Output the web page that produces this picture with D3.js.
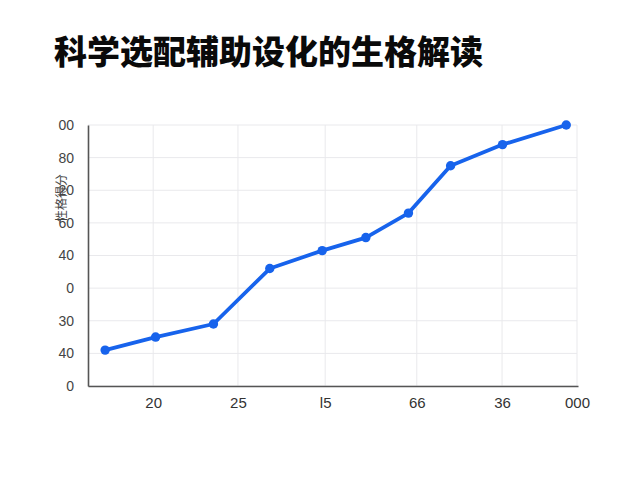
<!DOCTYPE html>
<html>
<head>
<meta charset="utf-8">
<script src="https://cdn.jsdelivr.net/npm/d3@7"></script>
<style>
  body { margin: 0; background: #fff; }
  svg { display: block; }
</style>
</head>
<body>
<div id="chart"></div>
<script>
// chart values
let titleText = "科学选配辅助设化的生格解读";
let yTitle = "性格得分";
let xValues = [3.5, 13.8, 25.6, 37.1, 47.8, 56.7, 65.4, 74.0, 84.6, 97.6];
let yValues = [22, 30, 38, 72, 83, 91, 106, 135, 148, 160];
let xTickValues = [13.3, 30.6, 48.4, 67.1, 84.5, 99.8];
let xTickLabels = ["20", "25", "Ɩ5", "66", "36", "000"];
let yTickValues = [0, 20, 40, 60, 80, 100, 120, 140, 160];
let yTickLabels = ["0", "40", "30", "0", "40", "60", "20", "80", "00"];

let width = 640;
let height = 480;
let margin = { top: 125, bottom: 94, left: 88, right: 62 };

let svg = d3.select('#chart')
    .append('svg')
        .attr('width', width)
        .attr('height', height)
        .style('background', '#fff');

svg.append('text')
    .attr('x', 54)
    .attr('y', 64)
    .attr('font-family', '"Noto Sans CJK SC", sans-serif')
    .attr('font-weight', 900)
    .attr('font-size', 33)
    .attr('fill', '#0a0a0a')
    .text(titleText);

let g = svg.append('g')
    .attr('transform', 'translate(' + margin.left + ',' + margin.top + ')');

let innerW = width - margin.left - margin.right;
let innerH = height - margin.top - margin.bottom;

let xScale = d3.scaleLinear()
    .domain([0, 100])
    .range([0, innerW]);

let yScale = d3.scaleLinear()
    .domain([0, 160])
    .range([innerH, 0]);

// grid
g.append('g')
    .selectAll('line.hgrid')
    .data(yTickValues)
    .enter().append('line')
        .attr('x1', 0).attr('x2', xScale(99.8))
        .attr('y1', d => yScale(d)).attr('y2', d => yScale(d))
        .attr('stroke', '#e9e9ec')
        .attr('stroke-width', 1);

g.append('g')
    .selectAll('line.vgrid')
    .data(xTickValues)
    .enter().append('line')
        .attr('x1', d => xScale(d)).attr('x2', d => xScale(d))
        .attr('y1', 0).attr('y2', innerH)
        .attr('stroke', '#e9e9ec')
        .attr('stroke-width', 1);

// axes
let xAxis = d3.axisBottom(xScale)
    .tickValues(xTickValues)
    .tickSize(0)
    .tickPadding(11)
    .tickFormat((d, i) => xTickLabels[i]);
let xg = g.append('g')
    .attr('transform', 'translate(0,' + innerH + ')')
    .call(xAxis);
xg.select('.domain').attr('stroke', '#555').attr('stroke-width', 1.6);
xg.selectAll('text')
    .attr('font-family', '"Liberation Sans", sans-serif')
    .attr('font-size', 15)
    .attr('fill', '#333');

let yAxis = d3.axisLeft(yScale)
    .tickValues(yTickValues)
    .tickSize(0)
    .tickPadding(14)
    .tickFormat((d, i) => yTickLabels[i]);
let yg = g.append('g').call(yAxis);
yg.select('.domain').attr('stroke', '#555').attr('stroke-width', 1.6);
yg.selectAll('text')
    .attr('font-family', '"Liberation Sans", sans-serif')
    .attr('font-size', 14)
    .attr('fill', '#444');

svg.append('text')
    .attr('transform', 'translate(66,' + 198 + ') rotate(-90)')
    .attr('text-anchor', 'middle')
    .attr('font-family', '"Noto Sans CJK SC", sans-serif')
    .attr('font-size', 12)
    .attr('fill', '#444')
    .text(yTitle);

let data = xValues.map((x, i) => ({ x: x, y: yValues[i] }));

let line = d3.line()
    .x(d => xScale(d.x))
    .y(d => yScale(d.y));

g.append('path')
    .datum(data)
    .attr('fill', 'none')
    .attr('stroke', '#1763ec')
    .attr('stroke-width', 3.8)
    .attr('stroke-linejoin', 'round')
    .attr('d', line);

g.selectAll('circle.pt')
    .data(data)
    .enter().append('circle')
        .attr('cx', d => xScale(d.x))
        .attr('cy', d => yScale(d.y))
        .attr('r', 4.7)
        .attr('fill', '#1763ec');
</script>
</body>
</html>
